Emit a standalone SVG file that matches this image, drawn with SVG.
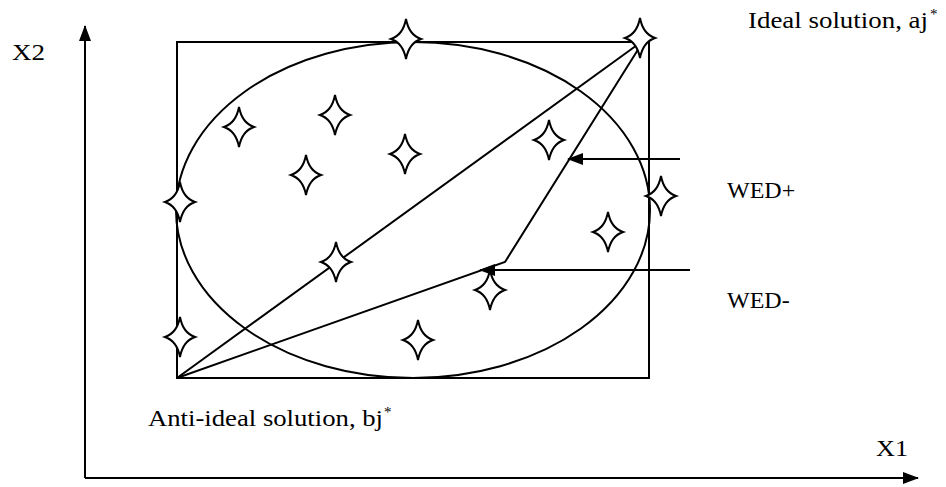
<svg xmlns="http://www.w3.org/2000/svg" xmlns:xlink="http://www.w3.org/1999/xlink" width="946" height="487" viewBox="0 0 946 487">
<style>
.ln{fill:none;stroke:#000;stroke-width:2}
.st{fill:#fff;stroke:#000;stroke-width:2;stroke-linejoin:miter}
.tx{font-family:"Liberation Serif","Times New Roman",serif;font-size:24px;fill:#000}
.sup{font-family:"Liberation Serif","Times New Roman",serif;font-size:15px;fill:#000}
</style>
<defs>
<path id="star" d="M0,-20 Q3,-4 15,0 Q3,4 0,20 Q-3,4 -15,0 Q-3,-4 0,-20 Z"/>
<marker id="ah" markerWidth="16" markerHeight="12" refX="15" refY="6" orient="auto" markerUnits="userSpaceOnUse">
<path d="M0,0 L16,6 L0,12 Z" fill="#000"/>
</marker>
</defs>
<rect width="946" height="487" fill="#fff"/>
<g id="frame">
<rect class="ln" x="177" y="42" width="472" height="336"/>
<ellipse class="ln" cx="413" cy="210" rx="237" ry="168"/>
</g>
<g id="connectors">
<line class="ln" x1="85" y1="478" x2="85" y2="26" marker-end="url(#ah)"/>
<line class="ln" x1="85" y1="478" x2="918" y2="478" marker-end="url(#ah)"/>
<line class="ln" x1="177" y1="378" x2="644" y2="40"/>
<polyline class="ln" points="177,378 505,262 644,40"/>
<line class="ln" x1="680" y1="159" x2="568" y2="159" marker-end="url(#ah)"/>
<line class="ln" x1="690" y1="270" x2="480" y2="270" marker-end="url(#ah)"/>
</g>
<g id="s1"><use href="#star" class="st" x="406" y="39"/></g>
<g id="s2"><use href="#star" class="st" x="640" y="38"/></g>
<g id="s3"><use href="#star" class="st" x="335" y="115"/></g>
<g id="s4"><use href="#star" class="st" x="239" y="127"/></g>
<g id="s5"><use href="#star" class="st" x="405" y="154"/></g>
<g id="s6"><use href="#star" class="st" x="306" y="175"/></g>
<g id="s7"><use href="#star" class="st" x="549" y="140"/></g>
<g id="s8"><use href="#star" class="st" x="661" y="196"/></g>
<g id="s9"><use href="#star" class="st" x="180" y="202"/></g>
<g id="s10"><use href="#star" class="st" x="608" y="232"/></g>
<g id="s11"><use href="#star" class="st" x="336" y="262"/></g>
<g id="s12"><use href="#star" class="st" x="490" y="290"/></g>
<g id="s13"><use href="#star" class="st" x="180" y="337"/></g>
<g id="s14"><use href="#star" class="st" x="418" y="340"/></g>
<g id="labels">
<text class="tx" x="12" y="60" textLength="33" lengthAdjust="spacingAndGlyphs">X2</text>
<text class="tx" x="748" y="28" textLength="180" lengthAdjust="spacingAndGlyphs">Ideal solution, aj</text>
<text class="sup" x="930" y="19">*</text>
<text class="tx" x="727" y="198">WED+</text>
<text class="tx" x="727" y="308">WED-</text>
<text class="tx" x="148" y="426" textLength="235" lengthAdjust="spacingAndGlyphs">Anti-ideal solution, bj</text>
<text class="sup" x="384" y="417">*</text>
<text class="tx" x="876" y="456" textLength="32" lengthAdjust="spacingAndGlyphs">X1</text>
</g>
</svg>
